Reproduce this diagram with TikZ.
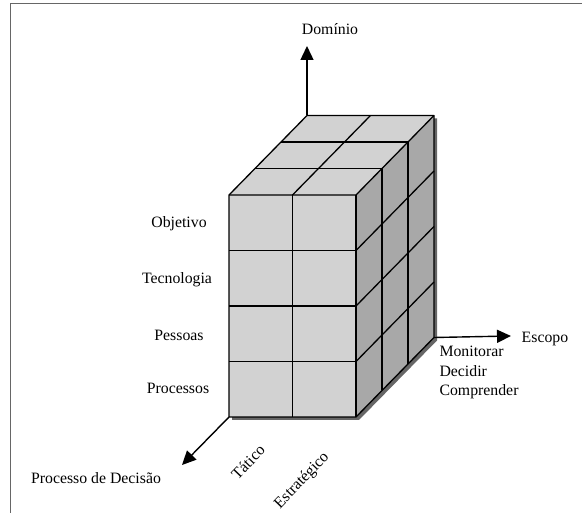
\documentclass[tikz,border=0pt]{standalone}
\usepackage{fontspec}
\setmainfont{Liberation Serif}
\usetikzlibrary{arrows.meta, positioning}

\begin{document}
\begin{tikzpicture}[x=1pt, y=-1pt, line join=round,
    axis/.style={line width=1.4pt, -{Triangle[length=14pt,width=13pt]}},
    edge/.style={line width=1.3pt, draw=black},
    lbl/.style={font=\fontsize{15.8}{19.5}\selectfont}]
    \useasboundingbox (0,0) rectangle (582,513);

    % Frame of the figure
    \draw[black!60, line width=1pt] (10,513) -- (10,3.5) -- (582,3.5);

    % Define cube parameters
    \def\w{63.5} % cell width
    \def\h{55.5} % cell height
    \def\dx{26} % depth step x
    \def\dy{26.5} % depth step y

    % Corners of the cube
    \coordinate (FBL) at (229,417);
    \coordinate (FTL) at (229,195);
    \coordinate (FTR) at (356,195);
    \coordinate (FBR) at (356,417);
    \coordinate (BTL) at (307,115.5);
    \coordinate (BTR) at (434,115.5);
    \coordinate (BBR) at (434,337.5);

    % Drop shadow
    \fill[black!60] ([xshift=3pt,yshift=-3pt]FBL) -- ([xshift=3pt,yshift=-3pt]FTL)
        -- ([xshift=3pt,yshift=-3pt]BTL) -- ([xshift=3pt,yshift=-3pt]BTR)
        -- ([xshift=3pt,yshift=-3pt]BBR) -- ([xshift=3pt,yshift=-3pt]FBR) -- cycle;

    % Faces
    \fill[gray!35] (FBL) rectangle (FTR);
    \fill[gray!35] (FTL) -- (FTR) -- (BTR) -- (BTL) -- cycle;
    \fill[gray!68] (FBR) -- (FTR) -- (BTR) -- (BBR) -- cycle;

    % Front grid
    \foreach \j in {1,2,3}
        \draw[edge] (229,{417-\h*\j}) -- (356,{417-\h*\j});
    \draw[edge] ({229+\w},417) -- ({229+\w},195);

    % Right grid
    \foreach \j in {1,2,3}
        \draw[edge] (356,{417-\h*\j}) -- (434,{337.5-\h*\j});
    \foreach \k in {1,2}
        \draw[edge] ({356+\dx*\k},{417-\dy*\k}) -- ({356+\dx*\k},{195-\dy*\k});

    % Top grid
    \foreach \k in {1,2}
        \draw[edge] ({229+\dx*\k},{195-\dy*\k}) -- ({356+\dx*\k},{195-\dy*\k});
    \draw[edge] ({229+\w},195) -- ({307+\w},115.5);

    % Outline
    \draw[edge] (FBL) -- (FTL) -- (BTL) -- (BTR) -- (BBR) -- (FBR) -- cycle;
    \draw[edge] (FTL) -- (FTR) -- (BTR);
    \draw[edge] (FTR) -- (FBR);

    % Axes
    \coordinate (dom) at (307,46);
    \coordinate (esc) at (511,336);
    \coordinate (proc) at (182,465);
    \draw[axis] (BTL) -- (dom);
    \draw[axis] (BBR) -- (esc);
    \draw[axis] (FBL) -- (proc);

    % Axis labels
    \node[lbl] (domlbl) at (330,29) {Domínio};
    \node[lbl] (esclbl) at (545,339) {Escopo};
    \node[lbl] (proclbl) at (96,478) {Processo de Decisão};
    \node[lbl, anchor=north west, align=left] (scopes) at (436,343)
        {Monitorar\\Decidir\\Comprender};

    % Row labels
    \node[lbl] (objetivo) at (179,224) {Objetivo};
    \node[lbl] (tecnologia) at (177,280) {Tecnologia};
    \node[lbl] (pessoas) at (179,335) {Pessoas};
    \node[lbl] (processos) at (178,388) {Processos};

    % Column labels
    \node[lbl, rotate=46] (tatico) at (248,462) {Tático};
    \node[lbl, rotate=46] (estrategico) at (302,481) {Estratégico};
\end{tikzpicture}
\end{document}
